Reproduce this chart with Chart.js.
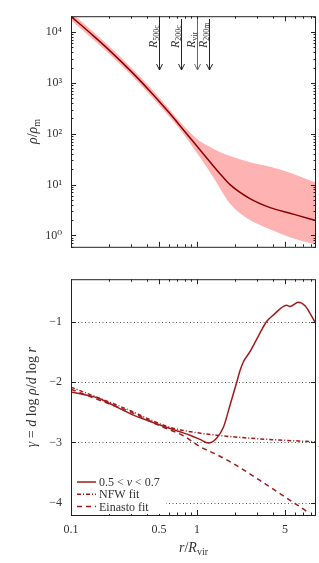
<!DOCTYPE html>
<html>
<head>
<meta charset="utf-8">
<script src="https://cdn.jsdelivr.net/npm/chart.js@4"></script>
<style>
  html, body { margin: 0; padding: 0; background: #fff; }
  #top { position: absolute; left: 0; top: 0; }
  #bot { position: absolute; left: 0; top: 263px; }
</style>
</head>
<body>
<canvas id="top" width="319" height="263"></canvas>
<canvas id="bot" width="319" height="300"></canvas>
<script>
// density profile (top panel)
var radius = [0.1, 0.15, 0.2, 0.3, 0.42, 0.5, 0.6, 0.73, 1.0, 1.27, 1.52, 1.83, 2.63, 3.8, 5.47, 7.9, 8.8];
var rhoMedian = [20400, 8550, 4480, 1690, 706, 438, 261, 146, 56.8, 27.7, 16.4, 9.95, 5.28, 3.52, 2.73, 2.11, 1.95];
var rhoUpper = [24300, 10200, 5320, 2010, 840, 520, 310, 174, 79, 55, 43.6, 36.3, 27.5, 22.4, 17, 12, 11];
var rhoLower = [17200, 7190, 3770, 1430, 594, 368, 219, 123, 41.7, 17.4, 8.5, 4.17, 2.0, 1.32, 0.92, 0.71, 0.68];

// logarithmic slope (bottom panel)
var rSlope = [0.1, 0.165, 0.223, 0.303, 0.41, 0.557, 0.72, 0.88, 1.056, 1.23, 1.43, 1.62, 1.83, 2.07, 2.19, 2.33, 2.63, 3.16, 3.57, 4.03, 5.15, 5.47, 6.37, 7.2, 8.6, 8.8];
var gammaMedian = [-2.165, -2.27, -2.40, -2.535, -2.64, -2.74, -2.82, -2.88, -2.95, -3.01, -2.93, -2.75, -2.38, -2.0, -1.82, -1.67, -1.50, -1.19, -1.0, -0.895, -0.73, -0.75, -0.68, -0.74, -1.0, -1.03];
var rNfw = [0.1, 0.2, 0.3, 0.42, 0.61, 1.0, 1.43, 2.63, 4.5, 7.9, 8.8];
var gammaNfw = [-2.085, -2.33, -2.48, -2.62, -2.75, -2.84, -2.88, -2.93, -2.96, -2.985, -2.99];
var rEin = [0.1, 0.2, 0.3, 0.5, 0.78, 1.056, 1.43, 1.94, 3.57, 5.8, 7.2, 7.7];
var gammaEin = [-2.12, -2.36, -2.50, -2.72, -2.89, -3.07, -3.20, -3.35, -3.70, -3.99, -4.12, -4.17];

// tick labels and markers
var rhoTicks = [1, 10, 100, 1000, 10000];
var rhoTickLabels = ["10\u2070", "10\u00b9", "10\u00b2", "10\u00b3", "10\u2074"];
var gammaTicks = [-1, -2, -3, -4];
var rTicks = [0.1, 0.5, 1, 5];
var arrowR = [0.5, 0.74, 1.0, 1.25];
var arrowSub = ["500c", "200c", "vir", "200m"];
var legendLabels = ["0.5 < \u03bd < 0.7", "NFW fit", "Einasto fit"];

var SERIF = '"Liberation Serif", "DejaVu Serif", serif';
var INK = "#333";
var LINE = "#a11b1b";

function pts(xs, ys) {
  return xs.map(function (x, i) { return { x: x, y: ys[i] }; });
}

// draw a run of text pieces: [text, size, italic, dy]
function rich(ctx, x, y, segs, rot, center) {
  ctx.save();
  ctx.translate(x, y);
  ctx.rotate(rot || 0);
  ctx.fillStyle = INK;
  ctx.textAlign = "left";
  ctx.textBaseline = "alphabetic";
  var w = 0;
  segs.forEach(function (s) {
    ctx.font = (s[2] ? "italic " : "") + s[1] + "px " + SERIF;
    s.w = ctx.measureText(s[0]).width;
    w += s.w;
  });
  var cx = center ? -w / 2 : 0;
  segs.forEach(function (s) {
    ctx.font = (s[2] ? "italic " : "") + s[1] + "px " + SERIF;
    ctx.fillText(s[0], cx, s[3] || 0);
    cx += s.w;
  });
  ctx.restore();
}

function logMinors(lo, hi) {
  var out = [];
  for (var k = -2; k <= 5; k++) {
    for (var m = 1; m <= 9; m++) {
      var v = m * Math.pow(10, k);
      if (v >= lo && v <= hi) out.push({ v: v, major: m === 1 });
    }
  }
  return out;
}

// frame, inward ticks, grid, arrows, legend, titles
var framePlugin = {
  id: "frame",
  beforeDatasetsDraw: function (chart, args, opts) {
    var ctx = chart.ctx, a = chart.chartArea, y = chart.scales.y;
    if (opts.kind === "bot") {
      ctx.save();
      ctx.strokeStyle = "#555";
      ctx.lineWidth = 1;
      ctx.setLineDash([1, 2.5]);
      gammaTicks.forEach(function (g) {
        var py = Math.round(y.getPixelForValue(g)) + 0.5;
        ctx.beginPath();
        ctx.moveTo(a.left, py);
        ctx.lineTo(a.right, py);
        ctx.stroke();
      });
      ctx.restore();
    }
  },
  afterDatasetsDraw: function (chart, args, opts) {
    var ctx = chart.ctx, a = chart.chartArea;
    var x = chart.scales.x, y = chart.scales.y;
    ctx.save();
    ctx.strokeStyle = "#222";
    ctx.lineWidth = 1;

    // x ticks, bottom and top edges
    logMinors(0.1, 8.8).forEach(function (t) {
      var major = t.major || Math.abs(t.v - 0.5) < 1e-9 || Math.abs(t.v - 5) < 1e-9;
      var len = major ? 5 : 2.5;
      var px = Math.round(x.getPixelForValue(t.v)) + 0.5;
      ctx.beginPath();
      ctx.moveTo(px, a.bottom); ctx.lineTo(px, a.bottom - len);
      ctx.moveTo(px, a.top); ctx.lineTo(px, a.top + len);
      ctx.stroke();
    });

    // y ticks, left and right edges
    var yt = opts.kind === "top"
      ? logMinors(y.min, y.max)
      : gammaTicks.map(function (g) { return { v: g, major: true }; });
    yt.forEach(function (t) {
      var len = t.major ? 5 : 2.5;
      var py = Math.round(y.getPixelForValue(t.v)) + 0.5;
      ctx.beginPath();
      ctx.moveTo(a.left, py); ctx.lineTo(a.left + len, py);
      ctx.moveTo(a.right, py); ctx.lineTo(a.right - len, py);
      ctx.stroke();
    });

    if (opts.kind === "top") {
      // arrows for the characteristic radii
      arrowR.forEach(function (r, i) {
        var px = Math.round(x.getPixelForValue(r)) + 0.5;
        ctx.strokeStyle = i === 2 ? "#666" : "#222";
        ctx.beginPath();
        ctx.moveTo(px, 19); ctx.lineTo(px, 70);
        ctx.moveTo(px - 3, 64); ctx.lineTo(px, 70); ctx.lineTo(px + 3, 64);
        ctx.stroke();
        rich(ctx, px - 3, 48, [["R", 12, true], [arrowSub[i], 8, false, 2.5]], -Math.PI / 2, false);
      });
    } else {
      // legend box over the grid (canvas y = page y - 263)
      var boxTop = 473 - 263;
      ctx.fillStyle = "#fff";
      ctx.fillRect(a.left + 1, boxTop, 94, a.bottom - 1 - boxTop);
      chart.data.datasets.forEach(function (d, i) {
        var ly = 482 - 263 + i * 12.3;
        ctx.save();
        ctx.strokeStyle = d.borderColor;
        ctx.lineWidth = d.borderWidth;
        ctx.setLineDash(d.borderDash || []);
        ctx.beginPath();
        ctx.moveTo(77, ly); ctx.lineTo(96, ly);
        ctx.stroke();
        ctx.restore();
        var segs = i === 0
          ? [["0.5 < ", 12, false], ["\u03bd", 12, true], [" < 0.7", 12, false]]
          : [[d.label, 12, false]];
        rich(ctx, 99, ly + 4, segs, 0, false);
      });
    }
    ctx.strokeStyle = "#222";
    ctx.strokeRect(a.left + 0.5, a.top + 0.5, a.right - a.left - 1, a.bottom - a.top);
    ctx.restore();
  },
  afterDraw: function (chart, args, opts) {
    var ctx = chart.ctx, a = chart.chartArea;
    var cy = (a.top + a.bottom) / 2, cx = (a.left + a.right) / 2;
    if (opts.kind === "top") {
      rich(ctx, 37, cy, [["\u03c1", 14, true], ["/", 14, false], ["\u03c1", 14, true], ["m", 10, false, 3]], -Math.PI / 2, true);
    } else {
      rich(ctx, 36, cy, [
        ["\u03b3", 14, true], [" = ", 14, false], ["d", 14, true], [" log ", 14, false], ["\u03c1", 14, true],
        ["/", 14, false], ["d", 14, true], [" log ", 14, false], ["r", 14, true]
      ], -Math.PI / 2, true);
      rich(ctx, cx, 552 - 263, [["r", 14, true], ["/", 14, false], ["R", 14, true], ["vir", 10, false, 3]], 0, true);
    }
  }
};

Chart.register(framePlugin);

function baseOptions(kind) {
  return {
    responsive: false,
    animation: false,
    layout: { padding: { top: kind === "top" ? 11 : 6, right: 3, left: 0, bottom: 0 } },
    elements: { line: { cubicInterpolationMode: "monotone" }, point: { radius: 0 } },
    plugins: {
      legend: { display: false },
      tooltip: { enabled: false },
      frame: { kind: kind },
    },
  };
}

// top panel
var topOpts = baseOptions("top");
topOpts.scales = {
  x: {
    type: "logarithmic", min: 0.1, max: 8.8,
    grid: { display: false, drawTicks: false }, border: { display: false },
    ticks: { display: false },
    afterFit: function (s) { s.height = 6; },
  },
  y: {
    type: "logarithmic", min: 0.596, max: 20600,
    grid: { display: false, drawTicks: false }, border: { display: false },
    afterBuildTicks: function (s) { s.ticks = rhoTicks.map(function (v) { return { value: v }; }); },
    ticks: {
      padding: 9, color: INK, font: { family: SERIF, size: 12 },
      callback: function (v) { return rhoTickLabels[rhoTicks.indexOf(v)]; },
    },
    afterFit: function (s) { s.width = 71; },
  },
};

// median first so it is drawn on top of the band
new Chart(document.getElementById("top"), {
  type: "line",
  data: {
    datasets: [
      { label: "median", data: pts(radius, rhoMedian), borderColor: "#8b0000", borderWidth: 1.5, fill: false },
      { label: "upper", data: pts(radius, rhoUpper), borderWidth: 0, fill: "+1", backgroundColor: "#ffb2b2" },
      { label: "lower", data: pts(radius, rhoLower), borderWidth: 0, fill: false },
    ],
  },
  options: topOpts,
});

// bottom panel
var botOpts = baseOptions("bot");
botOpts.scales = {
  x: {
    type: "logarithmic", min: 0.1, max: 8.8,
    grid: { display: false, drawTicks: false }, border: { display: false },
    afterBuildTicks: function (s) { s.ticks = rTicks.map(function (v) { return { value: v }; }); },
    ticks: {
      padding: 8, color: INK, font: { family: SERIF, size: 12 }, autoSkip: false, maxRotation: 0,
      callback: function (v) { return String(v); },
    },
    afterFit: function (s) { s.height = 48; },
  },
  y: {
    type: "linear", min: -4.2, max: -0.3,
    grid: { display: false, drawTicks: false }, border: { display: false },
    afterBuildTicks: function (s) { s.ticks = gammaTicks.map(function (v) { return { value: v }; }); },
    ticks: {
      padding: 9, color: INK, font: { family: SERIF, size: 12 },
      callback: function (v) { return "\u2212" + Math.abs(v); },
    },
    afterFit: function (s) { s.width = 71; },
  },
};

new Chart(document.getElementById("bot"), {
  type: "line",
  data: {
    datasets: [
      { label: legendLabels[0], data: pts(rSlope, gammaMedian), borderColor: LINE, borderWidth: 1.5, fill: false },
      { label: legendLabels[1], data: pts(rNfw, gammaNfw), borderColor: LINE, borderWidth: 1.5, borderDash: [4, 2, 1, 2], fill: false },
      { label: legendLabels[2], data: pts(rEin, gammaEin), borderColor: LINE, borderWidth: 1.5, borderDash: [5, 4], fill: false },
    ],
  },
  options: botOpts,
});
</script>
</body>
</html>
